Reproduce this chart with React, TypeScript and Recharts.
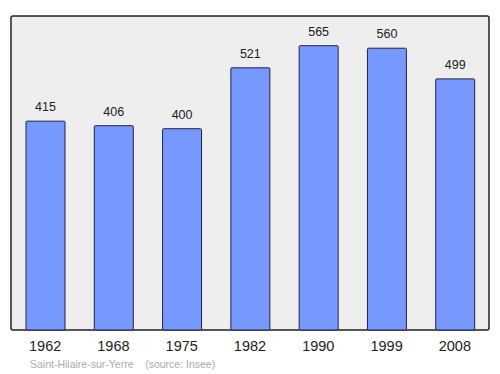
import React from 'react';
import { BarChart, Bar, XAxis, YAxis, ReferenceArea, LabelList, Customized } from 'recharts';

const years = ['1962', '1968', '1975', '1982', '1990', '1999', '2008'];
const population = [415, 406, 400, 521, 565, 560, 499];
const yMax = 624;
const sourceNote = 'Saint-Hilaire-sur-Yerre    (source: Insee)';

const data = years.map((year, i) => ({ year, pop: population[i] }));

const SourceText = () => (
  <text x={30} y={368} fontSize={10.5} fill="#aaaaaa" style={{ whiteSpace: 'pre' }}>
    {sourceNote}
  </text>
);

export default function App() {
  return (
    <div style={{ position: 'absolute', left: 0, top: 0, fontFamily: '"Liberation Sans", Arial, sans-serif' }}>
      <BarChart width={500} height={374} data={data} margin={{ top: 16, right: 5, left: 5, bottom: 14 }}>
        <ReferenceArea
          y1={0}
          y2={yMax}
          fill="#eeeeee"
          fillOpacity={1}
          stroke="#222222"
          strokeWidth={1.5}
          radius={2}
        />
        <XAxis
          dataKey="year"
          height={30}
          axisLine={false}
          tickLine={false}
          padding={{ left: 6, right: 6 }}
          tick={{ fontSize: 14.5, fill: '#222222' }}
          tickMargin={5}
          interval={0}
        />
        <YAxis hide domain={[0, yMax]} />
        <Bar dataKey="pop" fill="#7799ff" stroke="#222244" strokeWidth={1} barSize={39} radius={1} isAnimationActive={false}>
          <LabelList dataKey="pop" position="top" offset={10} fontSize={12.5} fill="#222222" />
        </Bar>
        <Customized component={SourceText} />
      </BarChart>
    </div>
  );
}
